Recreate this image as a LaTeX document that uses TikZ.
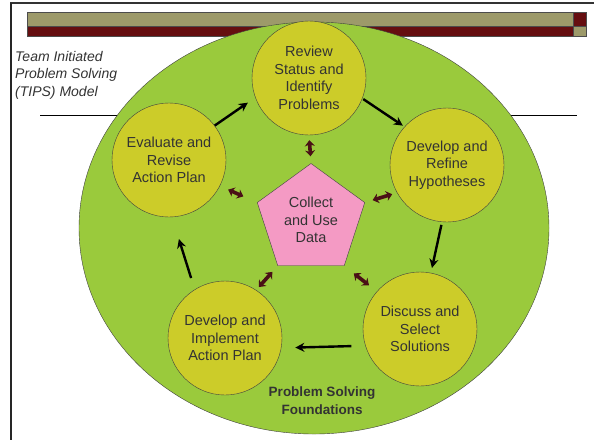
\documentclass[tikz,border=0pt]{standalone}
\usepackage{fontspec}
\setmainfont{Liberation Sans}
\usetikzlibrary{arrows.meta,shapes.geometric}

\definecolor{tipsgreen}{RGB}{154,202,60}
\definecolor{tipsyellow}{RGB}{204,204,41}
\definecolor{tipspink}{RGB}{244,154,196}
\definecolor{tipsolive}{RGB}{157,154,106}
\definecolor{tipsred}{RGB}{101,14,16}
\definecolor{tipsbrown}{RGB}{74,16,22}
\definecolor{tipstext}{RGB}{51,51,51}

\begin{document}
\begin{tikzpicture}[
            x=1pt, y=-1pt,
            font=\fontsize{14.5}{17.5}\selectfont,
            phase/.style={circle, draw=black!75, thin, fill=tipsyellow,
            minimum size=114pt, inner sep=0pt, align=center, text=tipstext},
            data/.style={regular polygon, regular polygon sides=5,
            draw=black!75, thin, fill=tipspink, minimum size=113pt,
            inner sep=0pt, align=center, text=tipstext},
            flow/.style={-{Stealth[length=9pt,width=9pt]}, line width=2.4pt, black},
            link/.style={{Stealth[length=6pt,width=10pt]}-{Stealth[length=6pt,width=10pt]},
            line width=3.6pt, tipsbrown}
        ]
\useasboundingbox (0,0) rectangle (594,440);
% slide frame and header bars
            \draw[line width=1.5pt, black!80] (10,3) -- (594,3);
            \draw[line width=2.5pt, black!85] (11,3) -- (11,440);
            \draw[fill=tipsolive, draw=black!70, thin] (27,12) rectangle (573,26);
            \draw[fill=tipsred, draw=black!70, thin] (27,26) rectangle (573,36);
            \draw[fill=tipsred, draw=black!70, thin] (573,12) rectangle (586,26);
            \draw[fill=tipsolive, draw=black!70, thin] (573,26) rectangle (586,36);
            \draw[thin] (40,115) -- (577,115);
% title
            \node[anchor=north west, inner sep=0pt, align=left, text=tipstext,
            font=\fontsize{14}{17.5}\selectfont\itshape] (title) at (15,51)
            {Team Initiated\\Problem Solving\\(TIPS) Model};
% foundations
            \draw[fill=tipsgreen, draw=black!75, thin] (314,228) ellipse [x radius=235pt, y radius=206pt];
            \node[font=\fontsize{13.5}{18}\selectfont\bfseries, text=tipstext, align=center]
            (base) at (322,401) {Problem Solving\\Foundations};
% the five steps
            \node[phase] (rev) at (309,78)  {Review\\Status and\\Identify\\Problems};
            \node[phase] (dev) at (447,165) {Develop and\\Refine\\Hypotheses};
            \node[phase] (dis) at (420,329) {Discuss and\\Select\\Solutions};
            \node[phase] (imp) at (225,338) {Develop and\\Implement\\Action Plan};
            \node[phase] (eva) at (169,160) {Evaluate and\\Revise\\Action Plan};
% data in the middle
            \node[data] (pent) at (311,220) {Collect\\and Use\\Data};
% cycle
            \draw[flow, shorten <=1pt, shorten >=2pt] (rev.-21) -- (dev.138);
            \draw[flow, shorten <=3pt, shorten >=5pt] (dev.-95) -- (dis.79);
            \draw[flow, shorten <=14pt, shorten >=14pt] (dis.-163) -- (imp.-10);
            \draw[flow, shorten <=12pt, shorten >=23pt] (imp.122) -- (eva.-87);
            \draw[flow, shorten <=0pt, shorten >=9pt] (eva.37) -- (rev.-160);
% data links
            \draw[link, shorten <=5pt, shorten >=7pt] (rev.south) -- (pent.corner 1);
            \draw[link, shorten <=8pt, shorten >=5pt] (pent.corner 5) -- (dev.-151);
            \draw[link, shorten <=9pt, shorten >=15pt] (eva.-27) -- (pent.corner 2);
            \draw[link, shorten <=4pt, shorten >=8pt] (imp.57) -- (pent.corner 3);
            \draw[link, shorten <=12pt, shorten >=10pt] (pent.corner 4) -- (dis.139);
        \end{tikzpicture}
\end{document}
